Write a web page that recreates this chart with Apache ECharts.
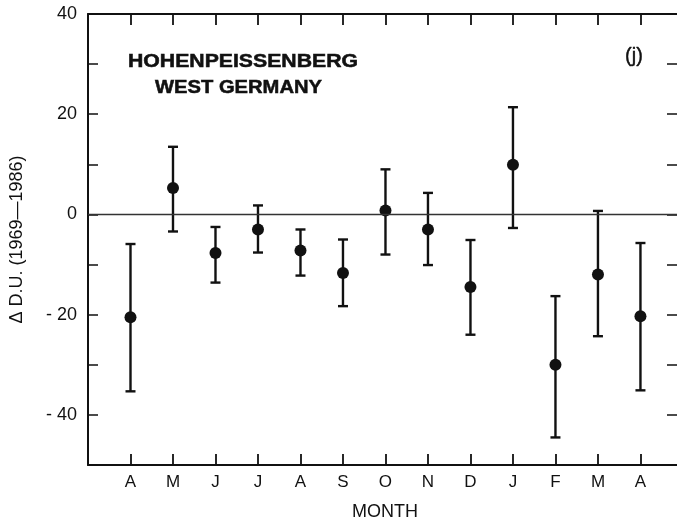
<!DOCTYPE html>
<html>
<head>
<meta charset="utf-8">
<script src="https://cdn.jsdelivr.net/npm/echarts@6/dist/echarts.min.js"></script>
<style>html,body{margin:0;padding:0;background:#fff}#c{width:677px;height:527px}</style>
</head>
<body>
<div id="c"></div>
<script>
const months = ['A','M','J','J','A','S','O','N','D','J','F','M','A'];
const meanVals = [-20.5, 5.3, -7.7, -3.0, -7.2, -11.7, 0.8, -3.0, -14.5, 9.9, -30.0, -12.0, -20.3];
const upperVals = [-5.9, 13.5, -2.5, 1.8, -3.0, -5.0, 9.0, 4.3, -5.1, 21.4, -16.3, 0.7, -5.7];
const lowerVals = [-35.3, -3.4, -13.6, -7.6, -12.2, -18.3, -8.0, -10.1, -24.0, -2.7, -44.5, -24.3, -35.1];
const yTickLabels = {'40':'40','20':'20','0':'0','-20':'- 20','-40':'- 40'};

const positions = months.map((m, i) => i + 1);
const INK = '#111';
const FONT = '"Liberation Sans", Arial, sans-serif';
const X_MAX = 13.86;

const chart = echarts.init(document.getElementById('c'), null, {renderer: 'canvas'});

const xCommon = {
  type: 'value', min: 0, max: X_MAX,
  axisLine: {show: true, onZero: false, lineStyle: {color: INK, width: 2}},
  axisTick: {show: true, inside: true, length: 11, customValues: positions, lineStyle: {color: INK, width: 1.8}},
  splitLine: {show: false}
};

chart.setOption({
  animation: false,
  backgroundColor: '#fff',
  grid: {left: 87, top: 14, right: 0, bottom: 62, containLabel: false},
  xAxis: [
    Object.assign({}, xCommon, {
      position: 'bottom',
      axisLabel: {show: true, customValues: positions, margin: 9, color: INK, fontSize: 17, fontFamily: FONT,
        formatter: v => months[Math.round(v) - 1] || ''}
    }),
    Object.assign({}, xCommon, {position: 'top', axisLabel: {show: false}})
  ],
  yAxis: [
    {
      type: 'value', min: -50, max: 40, interval: 10, position: 'left',
      axisLine: {show: true, onZero: false, lineStyle: {color: INK, width: 2}},
      axisTick: {show: true, inside: true, length: 10, lineStyle: {color: INK, width: 1.5}},
      splitLine: {show: false},
      axisLabel: {margin: 11, color: INK, fontSize: 18, fontFamily: FONT,
        formatter: v => yTickLabels[String(v)] || ''},
      name: 'Δ D.U. (1969—1986)', nameLocation: 'middle', nameRotate: 90, nameGap: 62,
      nameTextStyle: {color: INK, fontSize: 18, fontFamily: FONT}
    },
    {
      type: 'value', min: -50, max: 40, interval: 10, position: 'right',
      axisLine: {show: false, onZero: false},
      axisTick: {show: true, inside: true, length: 10, lineStyle: {color: INK, width: 1.5}},
      splitLine: {show: false},
      axisLabel: {show: false}
    }
  ],
  graphic: [
    {type: 'text', x: 243, y: 62.5, scaleX: 1.18, style: {text: 'HOHENPEISSENBERG', fill: INK, stroke: INK, lineWidth: 0.5,
      font: 'bold 18px "Liberation Sans", Arial, sans-serif', textAlign: 'center', textVerticalAlign: 'middle'}},
    {type: 'text', x: 238.5, y: 88, scaleX: 1.12, style: {text: 'WEST GERMANY', fill: INK, stroke: INK, lineWidth: 0.5,
      font: 'bold 18px "Liberation Sans", Arial, sans-serif', textAlign: 'center', textVerticalAlign: 'middle'}},
    {type: 'text', x: 634, y: 56, style: {text: '(j)', fill: INK, stroke: INK, lineWidth: 0.4,
      font: '20px "Liberation Sans", Arial, sans-serif', textAlign: 'center', textVerticalAlign: 'middle'}},
    {type: 'text', x: 385, y: 512, style: {text: 'MONTH', fill: INK,
      font: '18px "Liberation Sans", Arial, sans-serif', textAlign: 'center', textVerticalAlign: 'middle'}}
  ],
  series: [
    {
      type: 'custom',
      xAxisIndex: 0, yAxisIndex: 0,
      data: positions.map((p, i) => [p, lowerVals[i], upperVals[i]]),
      encode: {x: 0, y: [1, 2]},
      renderItem: function (params, api) {
        const x = api.value(0);
        const lo = api.coord([x, api.value(1)]);
        const hi = api.coord([x, api.value(2)]);
        const cap = 5;
        const style = {stroke: INK, lineWidth: 2.4, fill: null};
        return {
          type: 'group',
          children: [
            {type: 'line', shape: {x1: lo[0], y1: lo[1], x2: hi[0], y2: hi[1]}, style: style},
            {type: 'line', shape: {x1: hi[0] - cap, y1: hi[1], x2: hi[0] + cap, y2: hi[1]}, style: style},
            {type: 'line', shape: {x1: lo[0] - cap, y1: lo[1], x2: lo[0] + cap, y2: lo[1]}, style: style}
          ]
        };
      },
      markLine: {
        silent: true, symbol: ['none', 'none'], label: {show: false},
        lineStyle: {color: '#333', width: 1.3, type: 'solid'},
        data: [{yAxis: 0}]
      },
      z: 2
    },
    {
      type: 'scatter',
      xAxisIndex: 0, yAxisIndex: 0,
      data: positions.map((p, i) => [p, meanVals[i]]),
      symbol: 'circle', symbolSize: 12,
      itemStyle: {color: INK, opacity: 1},
      z: 3
    }
  ]
});
</script>
</body>
</html>
